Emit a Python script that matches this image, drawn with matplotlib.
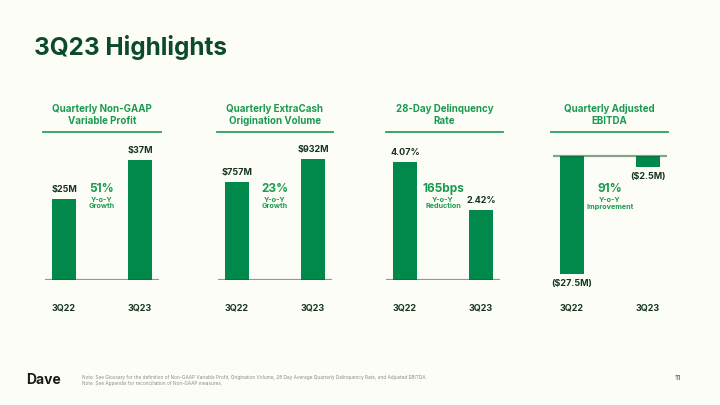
import matplotlib
matplotlib.use("Agg")
import matplotlib.pyplot as plt
from matplotlib.transforms import blended_transform_factory

plt.rcParams['font.family'] = ['Inter', 'DejaVu Sans']

# ---- data ----
quarters = ["3Q22", "3Q23"]
panel_titles = ["Quarterly Non-GAAP\nVariable Profit",
                "Quarterly ExtraCash\nOrigination Volume",
                "28-Day Delinquency\nRate",
                "Quarterly Adjusted\nEBITDA"]
variable_profit = [25, 37]          # $M
origination_volume = [757, 932]     # $M
delinquency_rate = [4.07, 2.42]     # %
adjusted_ebitda = [-27.5, -2.5]     # $M
value_labels = [["$25M", "$37M"],
                ["$757M", "$932M"],
                ["4.07%", "2.42%"],
                ["($27.5M)", "($2.5M)"]]
change_big = ["51%", "23%", "165bps", "91%"]
change_small = ["Y-o-Y\nGrowth", "Y-o-Y\nGrowth", "Y-o-Y\nReduction", "Y-o-Y\nImprovement"]
series = [variable_profit, origination_volume, delinquency_rate, adjusted_ebitda]
ylims = [(0, 40.1), (0, 1001), (0, 4.48), (-28.9, 1.4)]

W, H = 720, 405
BG = "#fdfdf8"
BAR = "#00894a"
DARK = "#0c4a2a"
GREEN = "#1c9a50"
LABEL = "#15351f"

fig = plt.figure(figsize=(7.2, 4.05), dpi=100, facecolor=BG)

def fx(px):
    return px / W

def fy(py):
    return 1 - py / H

fig.text(fx(34), fy(48), "3Q23 Highlights", fontsize=17.5, fontweight="bold",
         color=DARK, va="center", ha="left")

panel_left = [45, 218, 386, 553]
panel_w = 114
underline = [(43, 161), (217, 333), (386, 503), (551, 668)]

for i in range(4):
    ax = fig.add_axes([fx(panel_left[i]), fy(280), fx(panel_w), (280 - 150) / H])
    ax.set_facecolor("none")
    for s in ax.spines.values():
        s.set_visible(False)
    ax.set_xlim(-0.25, 1.25)
    ax.set_ylim(*ylims[i])
    vals = series[i]
    ax.bar([0, 1], vals, width=0.31, color=BAR, zorder=2)
    ax.axhline(0, color="#1f5a33", alpha=0.55, lw=1.6, zorder=3)
    ax.set_xticks([0, 1])
    ax.set_xticklabels(quarters, fontsize=6.5, fontweight="bold", color=LABEL)
    ax.tick_params(axis="x", length=0, pad=17)
    ax.set_yticks([])
    for j, v in enumerate(vals):
        if v >= 0:
            ax.annotate(value_labels[i][j], (j, v), xytext=(0, 3.5), textcoords="offset points",
                        ha="center", va="bottom", fontsize=6.5, fontweight="bold", color=LABEL)
        else:
            ax.annotate(value_labels[i][j], (j, v), xytext=(0, -3.5), textcoords="offset points",
                        ha="center", va="top", fontsize=6.5, fontweight="bold", color=LABEL)
    tr = blended_transform_factory(ax.transData, fig.transFigure)
    ax.text(0.5, fy(189), change_big[i], transform=tr, ha="center", va="center",
            fontsize=8.5, fontweight="bold", color=GREEN)
    ax.text(0.5, fy(203), change_small[i], transform=tr, ha="center", va="center",
            fontsize=5.2, fontweight="bold", color=GREEN, linespacing=1.2)

    x0, x1 = underline[i]
    fig.text(fx((x0 + x1) / 2), fy(115), panel_titles[i], ha="center", va="center",
             fontsize=7, fontweight="bold", color=GREEN, linespacing=1.25)
    fig.add_artist(plt.Line2D([fx(x0), fx(x1)], [fy(132), fy(132)], color="#2aa05a", lw=1.3))

# footer
fig.text(fx(26), fy(380), "Dave", fontsize=10, fontweight="bold", color="#1a1a1a",
         va="center", ha="left")
fig.text(fx(82), fy(377), "Note: See Glossary for the definition of Non-GAAP Variable Profit, Origination Volume, 28 Day Average Quarterly Delinquency Rate, and Adjusted EBITDA.",
         fontsize=3.45, color="#8a8a8a", va="center", ha="left")
fig.text(fx(82), fy(384), "Note: See Appendix for reconciliation of Non-GAAP measures.",
         fontsize=3.45, color="#8a8a8a", va="center", ha="left")
fig.text(fx(678), fy(378), "11", fontsize=5.5, color="#333333", va="center", ha="center")

fig.savefig("out.png", dpi=100, facecolor=BG)
